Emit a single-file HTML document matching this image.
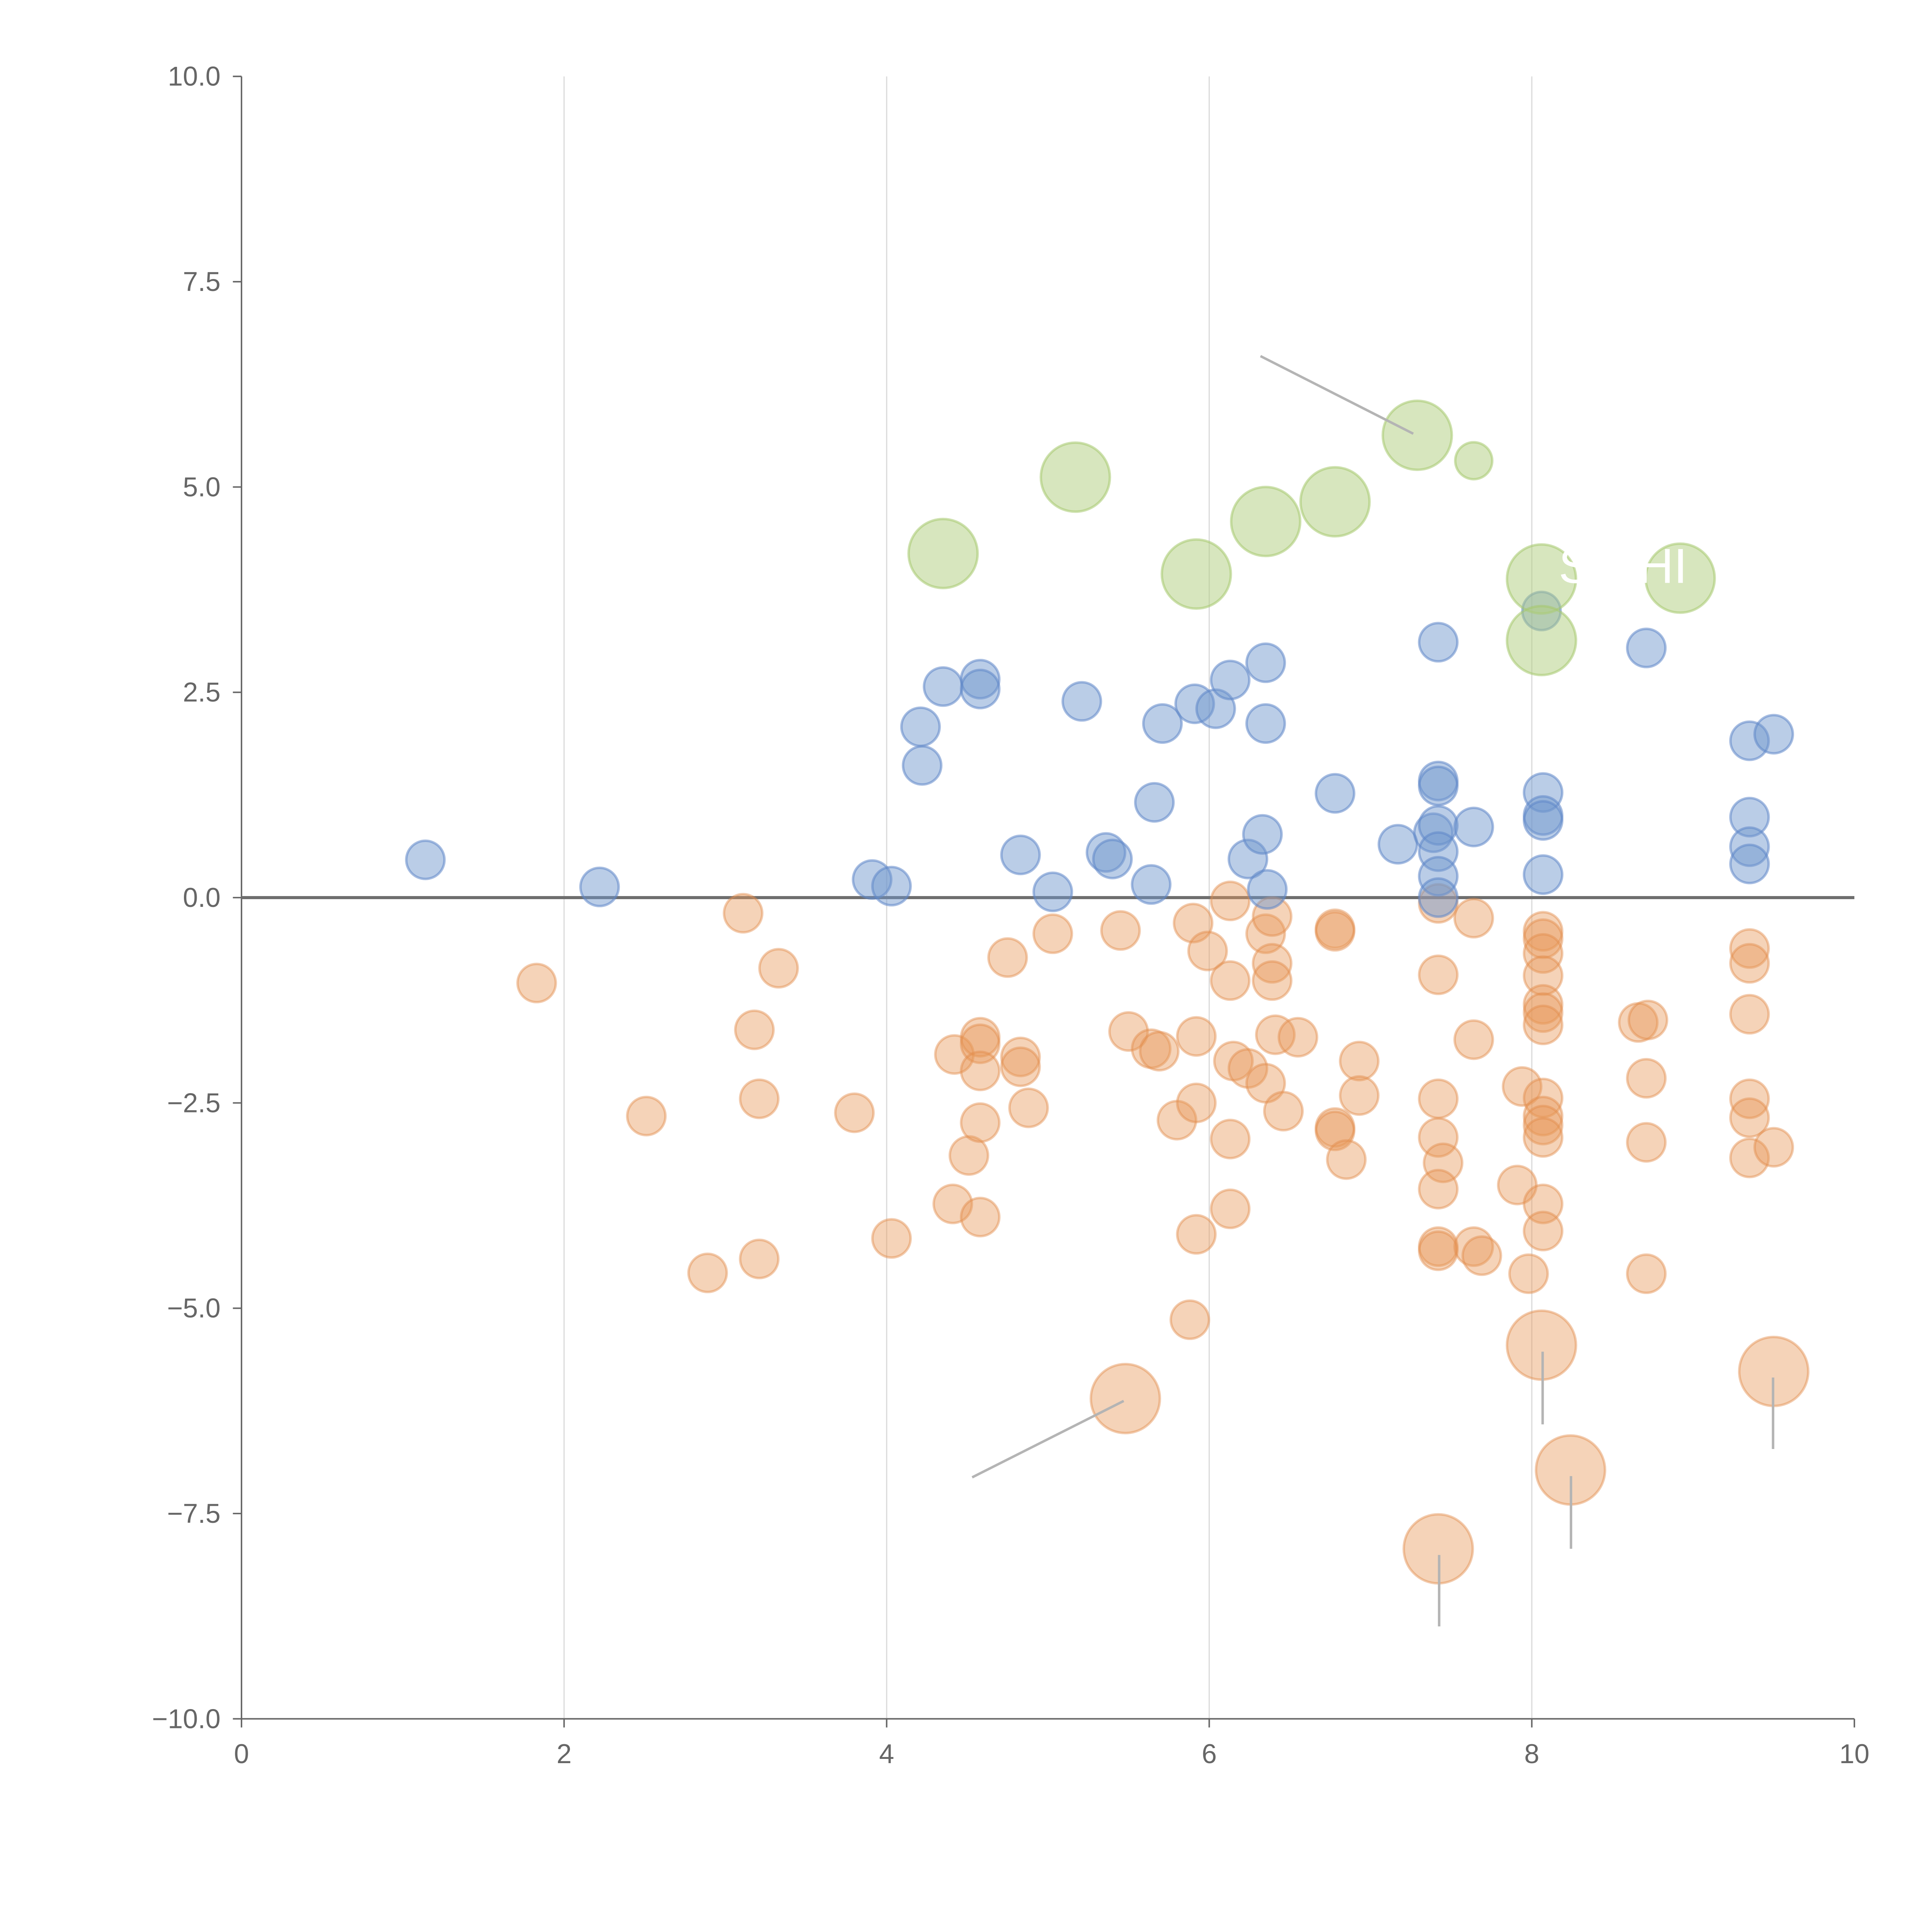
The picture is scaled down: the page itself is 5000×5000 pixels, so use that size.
<!DOCTYPE html>
<html><head><meta charset="utf-8"><style>
html,body{margin:0;padding:0;background:#fff}
svg{display:block}
text{font-family:"Liberation Sans",sans-serif}
</style></head><body>
<svg id="chart" width="5000" height="5000" viewBox="0 0 1568 1568" xmlns="http://www.w3.org/2000/svg"></svg>
<script>
const blueX=[1.14,2.22,3.91,4.03,4.21,4.22,4.35,4.58,4.58,4.83,5.03,5.21,5.36,5.40,5.64,5.66,5.71,5.91,6.04,6.13,6.24,6.33,6.35,6.35,6.36,6.78,7.17,7.39,7.42,7.42,7.42,7.42,7.42,7.42,7.42,7.64,8.06,8.07,8.07,8.07,8.07,8.71,9.35,9.35,9.35,9.35,9.50];
const blueY=[0.46,0.13,0.22,0.14,2.08,1.61,2.57,2.66,2.54,0.52,0.07,2.39,0.55,0.47,0.16,1.16,2.12,2.36,2.30,2.65,0.47,0.77,2.12,2.86,0.10,1.27,0.65,0.79,3.11,1.42,1.36,0.88,0.56,0.26,0.0,0.86,3.49,1.28,1.0,0.94,0.28,3.04,1.91,0.98,0.62,0.41,1.99];
const orangeX=[1.83,2.51,2.89,3.11,3.18,3.21,3.21,3.33,3.80,4.03,4.42,4.41,4.51,4.58,4.58,4.58,4.58,4.58,4.75,4.83,4.83,4.88,5.03,5.45,5.50,5.64,5.69,5.80,5.90,5.92,5.92,5.92,5.88,5.99,6.13,6.13,6.13,6.13,6.15,6.24,6.35,6.35,6.39,6.39,6.39,6.41,6.46,6.55,6.78,6.78,6.78,6.78,6.85,6.93,6.93,7.42,7.42,7.42,7.42,7.45,7.42,7.42,7.42,7.64,7.64,7.64,7.69,7.91,7.94,7.98,8.07,8.07,8.07,8.07,8.07,8.07,8.07,8.07,8.07,8.07,8.07,8.07,8.07,8.66,8.72,8.71,8.71,8.71,9.35,9.35,9.35,9.35,9.35,9.35,9.50];
const orangeY=[-1.04,-2.66,-4.57,-0.19,-1.61,-2.45,-4.40,-0.86,-2.62,-4.15,-1.91,-3.73,-3.14,-1.70,-1.78,-2.11,-2.74,-3.89,-0.73,-1.94,-2.06,-2.56,-0.44,-0.40,-1.63,-1.84,-1.87,-2.71,-0.31,-1.69,-2.50,-4.10,-5.14,-0.65,-0.04,-1.01,-2.94,-3.79,-1.99,-2.08,-2.26,-0.44,-0.23,-0.80,-1.01,-1.67,-2.60,-1.70,-0.38,-0.41,-2.80,-2.84,-3.19,-1.99,-2.41,-0.07,-0.94,-2.45,-2.92,-3.23,-3.55,-4.25,-4.30,-0.25,-1.73,-4.25,-4.36,-3.50,-2.30,-4.58,-0.41,-0.50,-0.68,-0.95,-1.30,-1.40,-1.55,-2.44,-2.66,-2.77,-2.92,-3.73,-4.06,-1.52,-1.49,-2.20,-2.98,-4.58,-0.62,-0.80,-1.42,-2.45,-2.68,-3.17,-3.04];
const bigOrangeX=[5.48,8.06,9.50,8.24,7.42];
const bigOrangeY=[-6.10,-5.45,-5.77,-6.97,-7.93];
const greenX=[4.35,5.17,5.92,6.35,6.78,7.29,8.06,8.06,8.92];
const greenY=[4.19,5.12,3.94,4.58,4.82,5.63,3.88,3.13,3.89];
const smallGreenX=[7.64];
const smallGreenY=[5.32];
const xTicks=[0,2,4,6,8,10];
const xTickLabels=["0","2","4","6","8","10"];
const yTicks=[10,7.5,5,2.5,0,-2.5,-5,-7.5,-10];
const yTickLabels=["10.0","7.5","5.0","2.5","0.0","\u22122.5","\u22125.0","\u22127.5","\u221210.0"];

const NS="http://www.w3.org/2000/svg";
const svg=document.getElementById('chart');
const X0=196,X1=1505,Y0=1395,Y1=62;
const xs=v=>X0+(v-0)/(10-0)*(X1-X0);
const ys=v=>Y0-(v+10)/20*(Y0-Y1);
function mk(tag,attrs,parent){const e=document.createElementNS(NS,tag);for(const k in attrs)e.setAttribute(k,attrs[k]);(parent||svg).appendChild(e);return e;}

const grid=mk('g',{});


xTicks.forEach((t,i)=>{ if(t>0&&t<10){const l=mk('line',{x1:xs(t),x2:xs(t),y1:Y1,y2:Y0,stroke:'#dcdcdc','stroke-width':1},grid);

}});

const xa=mk('g',{});


mk('line',{x1:X0,x2:X1,y1:Y0,y2:Y0,stroke:'#666','stroke-width':1.2},xa);
xTicks.forEach((t,i)=>{mk('line',{x1:xs(t),x2:xs(t),y1:Y0,y2:Y0+7,stroke:'#666','stroke-width':1.2},xa);
const tx=mk('text',{x:xs(t),y:Y0+36,'text-anchor':'middle','font-size':22,fill:'#666'},xa);tx.textContent=xTickLabels[i];

});
const ya=mk('g',{});


mk('line',{x1:X0,x2:X0,y1:Y1,y2:Y0,stroke:'#666','stroke-width':1.2},ya);
yTicks.forEach((t,i)=>{mk('line',{x1:X0-7,x2:X0,y1:ys(t),y2:ys(t),stroke:'#666','stroke-width':1.2},ya);
const tx=mk('text',{x:X0-17,y:ys(t)+7.5,'text-anchor':'end','font-size':22,fill:'#666'},ya);tx.textContent=yTickLabels[i];

});

const zl=mk('line',{x1:X0,x2:X1,y1:ys(0),y2:ys(0),stroke:'#6e6e6e','stroke-width':2.5});



function series(xArr,yArr,r,fill,stroke,name){
  const g=mk('g',{});
  
  
  xArr.forEach((x,i)=>{const c=mk('circle',{cx:xs(x),cy:ys(yArr[i]),r:r,fill:fill,stroke:stroke,'stroke-width':2},g);
  
  });
}
series(orangeX,orangeY,15.5,'rgba(232,150,85,0.42)','rgba(226,140,75,0.45)','orange');
series(bigOrangeX,bigOrangeY,28,'rgba(232,150,85,0.42)','rgba(226,140,75,0.45)','large-orange');
series(blueX,blueY,15.5,'rgba(110,150,205,0.48)','rgba(95,135,200,0.55)','blue');
series(greenX,greenY,28,'rgba(175,205,125,0.5)','rgba(165,200,110,0.55)','green');
series(smallGreenX,smallGreenY,15,'rgba(175,205,125,0.5)','rgba(165,200,110,0.55)','small-green');

const lead=mk('g',{stroke:'#b4b4b4','stroke-width':2});


mk('line',{x1:1023,y1:289,x2:1147,y2:352},lead);
mk('line',{x1:789,y1:1199,x2:912,y2:1137},lead);
mk('line',{x1:1252,y1:1097,x2:1252,y2:1156},lead);
mk('line',{x1:1439,y1:1118,x2:1439,y2:1176},lead);
mk('line',{x1:1275,y1:1198,x2:1275,y2:1257},lead);
mk('line',{x1:1168,y1:1262,x2:1168,y2:1320},lead);

const lbl=mk('text',{x:1265,y:473,'font-size':40,fill:'#fff'});
lbl.textContent='S  SHI';


</script>
</body></html>
